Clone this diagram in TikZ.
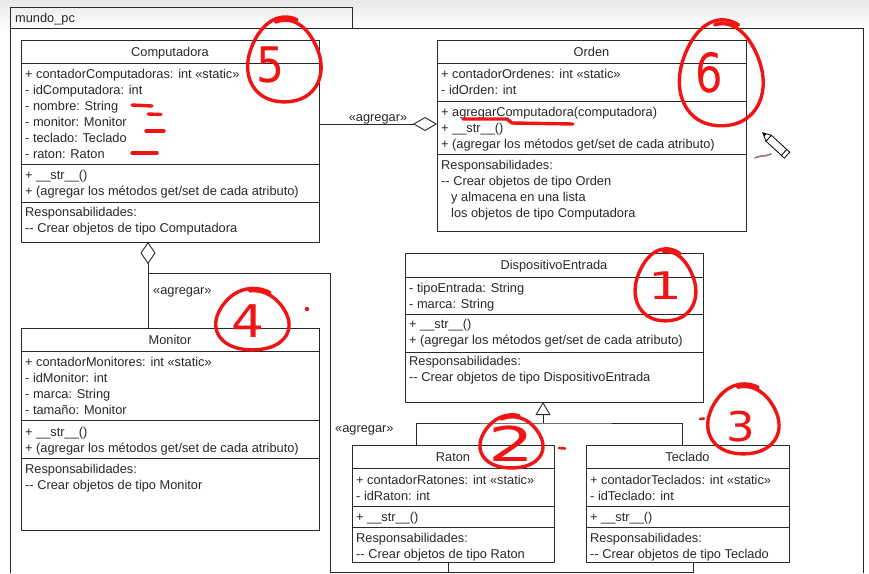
\documentclass[tikz,border=0pt]{standalone}
\usepackage{fontspec}
\setmainfont{Liberation Sans}
\newfontfamily\handfont{DejaVu Sans}
\usetikzlibrary{arrows.meta}
\definecolor{ink}{RGB}{40,40,40}
\definecolor{txt}{RGB}{40,40,40}
\definecolor{pen}{RGB}{240,20,20}
\definecolor{mauve}{RGB}{165,105,125}
\newcommand\dd{-\kern0pt-}
\newcommand\rowsat[4]{\foreach \rowtext [count=\rowidx] in {#4} {\node[rowtxt] (#1-\rowidx) at (#2,{#3+16*(\rowidx-1)}) {\rowtext};}}
\newcommand\handring[6]{\draw[redpen] plot[domain=#5:#6, samples=90, smooth, variable=\ang] ({#1+#3*(1+0.045*sin(3*\ang)+0.00022*(\ang-#5))*cos(\ang)},{#2+#4*(1+0.045*sin(3*\ang)+0.00022*(\ang-#5))*sin(\ang)});}
\tikzset{
  umlbox/.style={draw=ink, line width=0.9pt, fill=white, inner sep=0pt, outer sep=0pt, anchor=north west},
  wire/.style={draw=ink, line width=0.9pt},
  ttl/.style={font=\fontsize{12.8}{15}\selectfont, text=txt, inner sep=0pt, text height=11pt, text depth=3pt},
  rowtxt/.style={font=\fontsize{12.8}{15}\selectfont, text=txt, inner sep=0pt, anchor=west, text height=11pt, text depth=3pt},
  redpen/.style={draw=pen, line width=3.4pt, line cap=round, line join=round},
  digit/.style={text=pen, inner sep=0pt},
}
\begin{document}
\begin{tikzpicture}[x=1pt,y=-1pt]
\useasboundingbox (0,0) rectangle (869,573);
\fill[white] (0,0) rectangle (869,573);
\shade[top color=black!9, bottom color=white] (0,0) rectangle (869,30);

% package frame
\node[umlbox, fill=none, minimum width=342pt, minimum height=21pt] (tab) at (10,7) {};
\node[rowtxt] (tabname) at (15,18.5) {mundo\_pc};
\draw[wire] (10,573) -- (10,28) -- (863,28) -- (863,573);

% ---------- Computadora
\node[umlbox, minimum width=298pt, minimum height=202pt] (comp) at (21,40) {};
\node[ttl] (comp-t) at (170,52) {Computadora};
\draw[wire] (21,63) -- (319,63) (21,164) -- (319,164) (21,202) -- (319,202);
\rowsat{ca}{25}{74}{{+ contadorComputadoras: int «static»},{- idComputadora: int},{- nombre: String},{- monitor: Monitor},{- teclado: Teclado},{- raton: Raton}}
\rowsat{cm}{25}{175}{{+ \_\_str\_\_()},{+ (agregar los métodos get/set de cada atributo)}}
\rowsat{cr}{25}{212}{{Responsabilidades:},{\dd{} Crear objetos de tipo Computadora}}

% ---------- Orden
\node[umlbox, minimum width=309pt, minimum height=191pt] (ord) at (437,40) {};
\node[ttl] (ord-t) at (591.5,52) {Orden};
\draw[wire] (437,63) -- (746,63) (437,101) -- (746,101) (437,154) -- (746,154);
\rowsat{oa}{441}{74}{{+ contadorOrdenes: int «static»},{- idOrden: int}}
\rowsat{om}{441}{112}{{+ agregarComputadora(computadora)},{+ \_\_str\_\_()},{+ (agregar los métodos get/set de cada atributo)}}
\rowsat{or}{441}{165}{{Responsabilidades:},{\dd{} Crear objetos de tipo Orden},{\hspace*{10pt}y almacena en una lista},{\hspace*{10pt}los objetos de tipo Computadora}}

% ---------- Monitor
\node[umlbox, minimum width=298pt, minimum height=202pt] (mon) at (21,328) {};
\node[ttl] (mon-t) at (170,340) {Monitor};
\draw[wire] (21,351) -- (319,351) (21,420) -- (319,420) (21,458) -- (319,458);
\rowsat{ma}{25}{362}{{+ contadorMonitores: int «static»},{- idMonitor: int},{- marca: String},{- tamaño: Monitor}}
\rowsat{mm}{25}{432}{{+ \_\_str\_\_()},{+ (agregar los métodos get/set de cada atributo)}}
\rowsat{mr}{25}{469}{{Responsabilidades:},{\dd{} Crear objetos de tipo Monitor}}

% ---------- DispositivoEntrada
\node[umlbox, minimum width=298pt, minimum height=149pt] (dev) at (405,253) {};
\node[ttl] (dev-t) at (554,265) {DispositivoEntrada};
\draw[wire] (405,277) -- (703,277) (405,314) -- (703,314) (405,352) -- (703,352);
\rowsat{da}{409}{288}{{- tipoEntrada: String},{- marca: String}}
\rowsat{dm}{409}{324}{{+ \_\_str\_\_()},{+ (agregar los métodos get/set de cada atributo)}}
\rowsat{dr}{409}{361}{{Responsabilidades:},{\dd{} Crear objetos de tipo DispositivoEntrada}}

% ---------- Raton
\node[umlbox, minimum width=202pt, minimum height=117pt] (rat) at (352,445) {};
\node[ttl] (rat-t) at (453,457) {Raton};
\draw[wire] (352,468) -- (554,468) (352,506) -- (554,506) (352,527) -- (554,527);
\rowsat{ra}{356}{480}{{+ contadorRatones: int «static»},{- idRaton: int}}
\rowsat{rm}{356}{517}{{+ \_\_str\_\_()}}
\rowsat{rr}{356}{538}{{Responsabilidades:},{\dd{} Crear objetos de tipo Raton}}

% ---------- Teclado
\node[umlbox, minimum width=203pt, minimum height=117pt] (tec) at (586,445) {};
\node[ttl] (tec-t) at (687.5,457) {Teclado};
\draw[wire] (586,468) -- (789,468) (586,506) -- (789,506) (586,527) -- (789,527);
\rowsat{ta}{590}{480}{{+ contadorTeclados: int «static»},{- idTeclado: int}}
\rowsat{tm}{590}{517}{{+ \_\_str\_\_()}}
\rowsat{tr}{590}{538}{{Responsabilidades:},{\dd{} Crear objetos de tipo Teclado}}

% ---------- connectors
\coordinate (ordw) at (437,124);
\draw[wire, -{Diamond[open, length=24pt, width=14pt]}] (comp.east |- ordw) -- (ordw);
\node[rowtxt, anchor=center] (lbl1) at (378,117) {«agregar»};

\coordinate (compb) at (148,242);
\draw[wire, -{Diamond[open, length=22pt, width=15pt]}] (mon.north -| compb) -- (compb);
\coordinate (br) at (148,273);
\coordinate (busl) at (330,572);
\coordinate (tecb) at (693,562);
\coordinate (ratb) at (448,562);
\draw[wire] (br) -| (busl) -| (tecb);
\draw[wire] (ratb) -- (ratb |- busl);
\node[rowtxt] (lbl2) at (153,290) {«agregar»};
\node[rowtxt] (lbl3) at (335,428) {«agregar»};

\coordinate (gtop) at (543,402);
\coordinate (gbar) at (543,423);
\coordinate (ratt) at (416,445);
\coordinate (tect) at (682,445);
\draw[wire, -{Triangle[open, length=13pt, width=15pt]}] (gbar) -- (gtop);
\draw[wire] (ratt) |- (gbar) -| (tect);

% ---------- red hand annotations
\handring{285}{62}{35}{40}{-105}{288}
\node[digit, font=\handfont\fontsize{49}{49}\selectfont, xscale=0.9] (n5) at (271,65) {5};
\handring{722}{76}{40}{50}{-100}{292}
\node[digit, font=\handfont\fontsize{54}{54}\selectfont, xscale=0.8] (n6) at (709,73) {6};
\handring{666}{287}{29}{34}{-95}{296}
\node[digit, font=\handfont\fontsize{38}{38}\selectfont, xscale=1.4] (n1) at (665,286) {1};
\handring{512}{443}{30}{25}{-110}{282}
\node[digit, font=\handfont\fontsize{48}{48}\selectfont, xscale=1.5] (n2) at (511,444) {2};
\handring{744}{421}{34}{33}{-100}{292}
\node[digit, font=\handfont\fontsize{41}{41}\selectfont, xscale=1.1] (n3) at (741,427) {3};
\handring{253}{321}{35}{29}{-95}{296}
\node[digit, font=\handfont\fontsize{45}{45}\selectfont, xscale=1.15] (n4) at (248,321) {4};

\fill[pen] (307,309) circle (2.2pt);
\draw[redpen, line width=2.6pt] (559,448) -- (565,448.5);
\draw[redpen, line width=2.6pt] (700,419) -- (704,418.5);

% underlines
\draw[redpen] (132,105) -- (152,106);
\draw[redpen] (148,114) -- (161,114.5);
\draw[redpen] (146,131) -- (164,131);
\draw[redpen] (132,153) -- (157,153);
\draw[redpen] (463,119) -- (507,119) -- (512,123) -- (573,124);

% pencil cursor
\draw[mauve, line width=1.6pt, line cap=round] (755,158) .. controls (760,155) and (765,157) .. (771,154);
\begin{scope}[shift={(776,145)}, rotate=-42.6]
  \filldraw[draw=black, fill=white, line width=0.8pt] (-10,-4) -- (15,-4) -- (15,4) -- (-10,4) -- cycle;
  \filldraw[draw=black, fill=white, line width=0.8pt] (-10,-4) -- (-18,0) -- (-10,4) -- cycle;
  \fill[black] (-18,0) -- (-14.5,-1.8) -- (-14.5,1.8) -- cycle;
  \draw[black, line width=0.8pt] (11,-4) -- (11,4);
\end{scope}
\end{tikzpicture}
\end{document}
